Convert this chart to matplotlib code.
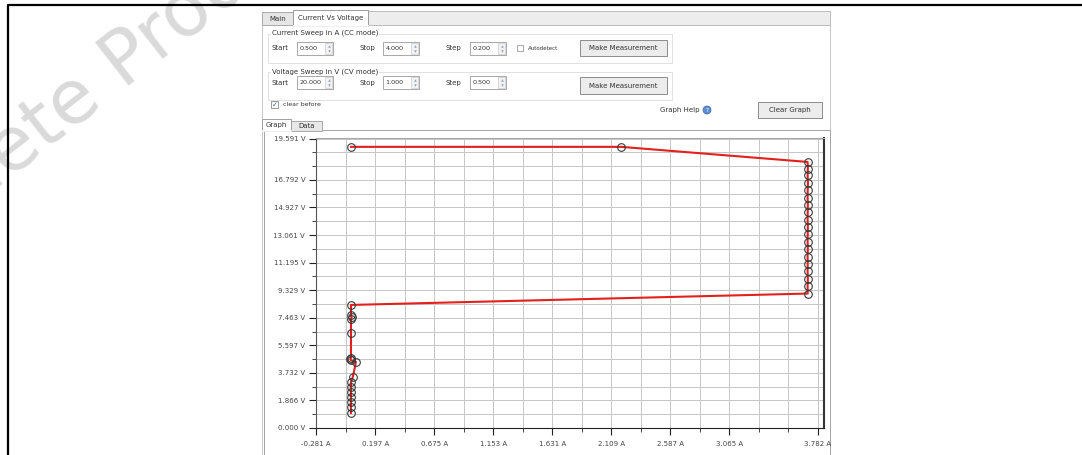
import numpy as np
import matplotlib.pyplot as plt
from matplotlib.patches import Rectangle, Circle

W, H = 1082, 455

# measured sweep points in acquisition order: current (A) and voltage (V)
current_a = [0.000, 2.190, 3.700, 3.702, 3.700, 3.703, 3.701, 3.700, 3.702, 3.701,
             3.700, 3.702, 3.701, 3.700, 3.702, 3.700, 3.701, 3.700, 3.702, 3.700,
             3.701, 0.000, 0.000, 0.005, 0.000, 0.000, 0.000, -0.005, 0.000, 0.040,
             0.015, 0.000, 0.000, 0.000, 0.000, 0.000, 0.000, 0.000]
voltage_v = [19.03, 19.03, 18.01, 17.55, 17.10, 16.60, 16.10, 15.60, 15.10, 14.60,
             14.10, 13.60, 13.10, 12.60, 12.10, 11.60, 11.10, 10.60, 10.10, 9.60,
             9.10, 8.33, 7.65, 7.50, 7.38, 6.43, 4.75, 4.65, 4.58, 4.47,
             3.45, 3.10, 2.75, 2.42, 2.08, 1.75, 1.40, 1.02]

x_tick_labels = ["-0.281 A", "0.197 A", "0.675 A", "1.153 A", "1.631 A",
                 "2.109 A", "2.587 A", "3.065 A", "3.782 A"]
y_tick_labels = ["0.000 V", "1.866 V", "3.732 V", "5.597 V", "7.463 V", "9.329 V",
                 "11.195 V", "13.061 V", "14.927 V", "16.792 V", "19.591 V"]

x_lim = (-0.281, 3.833)
y_lim = (0.0, 19.65)
x_minor_step = 0.239
y_minor_step = 0.933

GUI_FONT = 5
TXT = "#333333"


def rect(ax, x, y, w, h, fc="white", ec="#a8a8a8", lw=0.7, z=1):
    ax.add_patch(Rectangle((x, y), w, h, facecolor=fc, edgecolor=ec, linewidth=lw, zorder=z))


def label(ax, x, y, s, size=GUI_FONT, ha="left", color=TXT, **kw):
    ax.text(x, y, s, fontsize=size, ha=ha, va="center", color=color, zorder=4, **kw)


def spin_entry(ax, x, y, value):
    rect(ax, x, y, 36, 13)
    label(ax, x + 2.5, y + 6.5, value, size=4.6)
    rect(ax, x + 28, y + 1, 7, 11, fc="#f2f2f2", ec="#cccccc", lw=0.5)
    ax.plot([x + 31.5], [y + 4.2], marker="^", ms=1.8, color="#8aa0c0", mec="none", zorder=4)
    ax.plot([x + 31.5], [y + 8.8], marker="v", ms=1.8, color="#8aa0c0", mec="none", zorder=4)


def button(ax, x, y, w, h, s):
    rect(ax, x, y, w, h, fc="#ececec", ec="#8c8c8c", lw=0.7)
    label(ax, x + w / 2, y + h / 2, s, ha="center")


def group_title(ax, x, y, s):
    ax.text(x, y, s, fontsize=GUI_FONT, ha="left", va="center", color=TXT, zorder=4,
            bbox=dict(boxstyle="square,pad=0.1", fc="white", ec="none"))


fig = plt.figure(figsize=(W / 100, H / 100), dpi=100)

# background layer in pixel coordinates (origin top-left)
bg = fig.add_axes([0, 0, 1, 1])
bg.set_xlim(0, W)
bg.set_ylim(H, 0)
bg.axis("off")

# watermark
bg.text(82, 96, "Obsolete Product", fontsize=54, color="#dadada", rotation=38,
        ha="center", va="center", rotation_mode="anchor", zorder=0)

# page frame
bg.plot([8, 8, W], [H, 4.8, 4.8], color="black", lw=1.6, zorder=5, solid_capstyle="butt")

# window tabs
rect(bg, 262, 25, 568, 430, fc="white", ec="#c4c4c4")
rect(bg, 368, 11, 462, 14, fc="#ededed", ec="#bcbcbc")
rect(bg, 262, 12, 31, 13, fc="#e6e6e6", ec="#a8a8a8")
label(bg, 277.5, 19, "Main", ha="center")
rect(bg, 293, 10, 75, 16, fc="white", ec="#9c9c9c")
bg.plot([293.5, 367.5], [25.5, 25.5], color="white", lw=1.2, zorder=2)
label(bg, 330.5, 18, "Current Vs Voltage", ha="center")

# current sweep group
rect(bg, 268, 34, 404, 29, fc="none", ec="#dcdcdc", lw=0.6)
group_title(bg, 272, 33, "Current Sweep in A (CC mode)")
label(bg, 272, 48, "Start")
spin_entry(bg, 297, 42, "0.500")
label(bg, 359, 48, "Stop")
spin_entry(bg, 383, 42, "4.000")
label(bg, 446, 48, "Step")
spin_entry(bg, 470, 42, "0.200")
rect(bg, 517, 45, 6, 6, fc="white", ec="#9a9a9a", lw=0.6)
label(bg, 528, 48, "Autodetect", size=4)
button(bg, 580, 40, 87, 16, "Make Measurement")

# voltage sweep group
rect(bg, 268, 72, 404, 28, fc="none", ec="#dcdcdc", lw=0.6)
group_title(bg, 272, 72, "Voltage Sweep in V (CV mode)")
label(bg, 272, 83, "Start")
spin_entry(bg, 297, 76, "20.000")
label(bg, 359, 83, "Stop")
spin_entry(bg, 383, 76, "1.000")
label(bg, 446, 83, "Step")
spin_entry(bg, 470, 76, "0.500")
button(bg, 580, 77, 87, 17, "Make Measurement")

# options row
rect(bg, 271, 101, 7, 7, fc="white", ec="#8a8a8a", lw=0.6)
label(bg, 274.5, 104.5, "\u2713", size=5, ha="center", color="#3a5a8a")
label(bg, 283, 105, "clear before", size=4.5)
label(bg, 699, 110, "Graph Help", ha="right")
bg.add_patch(Circle((707, 110), 4, facecolor="#5b8fd0", edgecolor="#3a6aa8", lw=0.5, zorder=2))
label(bg, 707, 110, "?", size=4, ha="center", color="white")
button(bg, 758, 102, 64, 16, "Clear Graph")

# graph / data tabs and chart panel
rect(bg, 264, 130, 566, 330, fc="white", ec="#a4a4a4")
rect(bg, 291, 121, 31, 10, fc="#e8e8e8", ec="#a8a8a8")
label(bg, 306.5, 126, "Data", ha="center")
rect(bg, 262, 119, 29, 12, fc="white", ec="#a0a0a0")
bg.plot([262.5, 290.5], [130.5, 130.5], color="white", lw=1.2, zorder=2)
label(bg, 276.5, 125, "Graph", ha="center")

# plot area
px_left, px_right, px_top, px_bottom = 316.3, 824.0, 137.7, 428.0
ax = fig.add_axes([px_left / W, (H - px_bottom) / H,
                   (px_right - px_left) / W, (px_bottom - px_top) / H])
ax.set_facecolor("white")
ax.set_xlim(*x_lim)
ax.set_ylim(*y_lim)

x_major = [float(s.split()[0]) for s in x_tick_labels]
y_major = [float(s.split()[0]) for s in y_tick_labels]
x_all = np.arange(x_major[0], x_lim[1], x_minor_step)
y_all = np.arange(0.0, y_lim[1] - 0.5, y_minor_step)
x_minor = [v for v in x_all if min(abs(v - m) for m in x_major) > 0.02]
y_minor = [v for v in y_all if min(abs(v - m) for m in y_major) > 0.02]

ax.set_xticks(x_major)
ax.set_xticklabels(x_tick_labels)
ax.set_xticks(x_minor, minor=True)
ax.set_yticks(y_major)
ax.set_yticklabels(y_tick_labels)
ax.set_yticks(y_minor, minor=True)

ax.tick_params(which="major", length=5, width=0.8, color="#222222",
               labelsize=GUI_FONT, labelcolor="#444444")
ax.tick_params(which="minor", length=3, width=0.7, color="#444444")
ax.tick_params(axis="x", which="major", pad=4)
ax.tick_params(axis="y", which="major", pad=3)
ax.grid(which="both", color="#c6c6c6", lw=0.7)
ax.set_axisbelow(True)

ax.spines["left"].set_color("#555555")
ax.spines["bottom"].set_color("#222222")
ax.spines["top"].set_color("#a8a8a8")
ax.spines["right"].set_color("#333333")
ax.spines["right"].set_linewidth(1.5)

ax.plot(current_a, voltage_v, color="#e3201c", lw=1.5, marker="o", ms=5.5,
        mfc="none", mec="#3a3a3a", mew=0.8, zorder=3, clip_on=False)

fig.savefig("out.png", dpi=100)
